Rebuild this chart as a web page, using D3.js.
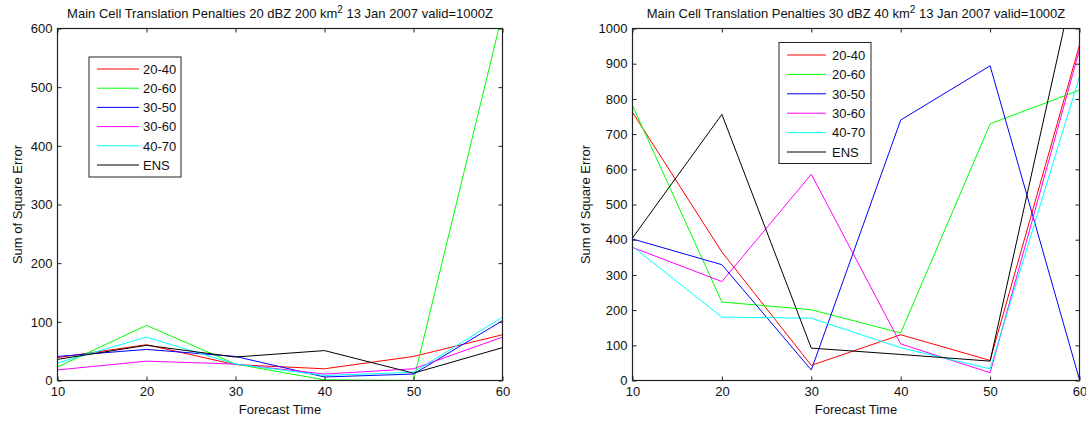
<!DOCTYPE html>
<html>
<head>
<meta charset="utf-8">
<script src="https://cdn.jsdelivr.net/npm/d3@7"></script>
<style>
  html, body { margin: 0; padding: 0; background: #fff; }
  svg { display: block; }
  text { font-family: "Liberation Sans", Arial, sans-serif; fill: #111; }
</style>
</head>
<body>
<svg id="chart" width="1086" height="421"></svg>
<script>
// ---- data ----
const forecastTimes = [10, 20, 30, 40, 50, 60];
const seriesNames = ["20-40", "20-60", "30-50", "30-60", "40-70", "ENS"];
const seriesColors = ["#ff0000", "#00ff00", "#0000ff", "#ff00ff", "#00ffff", "#000000"];
const xTicks = [10, 20, 30, 40, 50, 60];

// left panel: 20 dBZ 200 km2
const left2040 = [39, 61, 27, 20, 41, 78];
const left2060 = [23, 94, 28, 1, 0, 626];
const left3050 = [41, 53, 41, 6, 11, 102];
const left3060 = [18, 33, 28, 11, 20, 74];
const left4070 = [30, 74, 28, 8.5, 14, 108];
const leftENS  = [36, 60, 40, 51, 12.5, 56];
const leftYTicks = [0, 100, 200, 300, 400, 500, 600];

// right panel: 30 dBZ 40 km2
const right2040 = [762, 365, 43, 130, 57, 953];
const right2060 = [781, 223, 201, 135, 729, 825];
const right3050 = [402, 329, 30, 740, 894, 2];
const right3060 = [378, 281, 586, 104, 22, 940];
const right4070 = [381, 180, 177, 93, 33, 863];
const rightENS  = [405, 756, 92, 74, 55, 1200];
const rightYTicks = [0, 100, 200, 300, 400, 500, 600, 700, 800, 900, 1000];

const panels = [
  {
    titleA: "Main Cell Translation Penalties 20 dBZ 200 km", titleB: " 13 Jan 2007 valid=1000Z",
    series: [left2040, left2060, left3050, left3060, left4070, leftENS],
    yMax: 600, yTicks: leftYTicks,
    x0: 57.5, x1: 502.5, ylabelX: 18,
    legend: { x: 89, y: 57, w: 92, h: 120, line0: 97, line1: 139, text: 143, row0: 69, step: 19.2 }
  },
  {
    titleA: "Main Cell Translation Penalties 30 dBZ 40 km", titleB: " 13 Jan 2007 valid=1000Z",
    series: [right2040, right2060, right3050, right3060, right4070, rightENS],
    yMax: 1000, yTicks: rightYTicks,
    x0: 632.5, x1: 1079.5, ylabelX: 586,
    legend: { x: 779, y: 42.5, w: 92, h: 121, line0: 787, line1: 826, text: 832, row0: 55, step: 19.4 }
  }
];

const FS = 13;
const plotTop = 28.5, plotBottom = 380.5;
const svg = d3.select("#chart");

panels.forEach((p, pi) => {
  const x = d3.scaleLinear().domain([10, 60]).range([p.x0, p.x1]);
  const y = d3.scaleLinear().domain([0, p.yMax]).range([plotBottom, plotTop]);
  const g = svg.append("g");

  const clipId = "clip" + pi;
  svg.append("clipPath").attr("id", clipId)
    .append("rect").attr("x", p.x0).attr("y", plotTop)
    .attr("width", p.x1 - p.x0).attr("height", plotBottom - plotTop);

  g.append("rect").attr("x", p.x0).attr("y", plotTop)
    .attr("width", p.x1 - p.x0).attr("height", plotBottom - plotTop)
    .attr("fill", "#fff");

  const line = d3.line().x((d, i) => x(forecastTimes[i])).y(d => y(d));
  const lg = g.append("g").attr("clip-path", `url(#${clipId})`);
  p.series.forEach((vals, si) => {
    lg.append("path").datum(vals)
      .attr("d", line)
      .attr("fill", "none")
      .attr("stroke", seriesColors[si])
      .attr("stroke-width", 1);
  });

  const axisStyle = sel => {
    sel.select(".domain").remove();
    sel.selectAll(".tick line").attr("stroke", "#222");
    sel.selectAll("text").attr("font-size", FS).attr("fill", "#111")
      .attr("font-family", '"Liberation Sans", Arial, sans-serif');
  };
  g.append("g").attr("transform", `translate(0,${plotBottom})`)
    .call(d3.axisBottom(x).tickValues(xTicks).tickSize(-4).tickPadding(6).tickFormat(d3.format("d")))
    .call(axisStyle);
  g.append("g").attr("transform", `translate(0,${plotTop})`)
    .call(d3.axisTop(x).tickValues(xTicks).tickSize(-4).tickFormat(""))
    .call(axisStyle);
  g.append("g").attr("transform", `translate(${p.x0},0)`)
    .call(d3.axisLeft(y).tickValues(p.yTicks).tickSize(-4).tickPadding(5).tickFormat(d3.format("d")))
    .call(axisStyle);
  g.append("g").attr("transform", `translate(${p.x1},0)`)
    .call(d3.axisRight(y).tickValues(p.yTicks).tickSize(-4).tickFormat(""))
    .call(axisStyle);

  g.append("rect").attr("x", p.x0).attr("y", plotTop)
    .attr("width", p.x1 - p.x0).attr("height", plotBottom - plotTop)
    .attr("fill", "none").attr("stroke", "#222").attr("stroke-width", 1.2);

  const cx = (p.x0 + p.x1) / 2;
  const t = g.append("text").attr("x", cx).attr("y", 18)
    .attr("text-anchor", "middle").attr("font-size", FS);
  t.append("tspan").text(p.titleA);
  t.append("tspan").attr("font-size", 10).attr("dy", -5).text("2");
  t.append("tspan").attr("dy", 5).text(p.titleB);

  g.append("text").attr("x", cx).attr("y", 414)
    .attr("text-anchor", "middle").attr("font-size", FS).text("Forecast Time");

  g.append("text")
    .attr("transform", `translate(${p.ylabelX + 4},${(plotTop + plotBottom) / 2}) rotate(-90)`)
    .attr("text-anchor", "middle").attr("font-size", FS).text("Sum of Square Error");

  const L = p.legend;
  const leg = g.append("g");
  leg.append("rect").attr("x", L.x).attr("y", L.y).attr("width", L.w).attr("height", L.h)
    .attr("fill", "#fff").attr("stroke", "#222").attr("stroke-width", 1);
  seriesNames.forEach((name, i) => {
    const ry = L.row0 + i * L.step;
    leg.append("line").attr("x1", L.line0).attr("x2", L.line1)
      .attr("y1", ry).attr("y2", ry)
      .attr("stroke", seriesColors[i]).attr("stroke-width", 1);
    leg.append("text").attr("x", L.text).attr("y", ry + 4.8)
      .attr("font-size", FS).text(name);
  });
});
</script>
</body>
</html>
